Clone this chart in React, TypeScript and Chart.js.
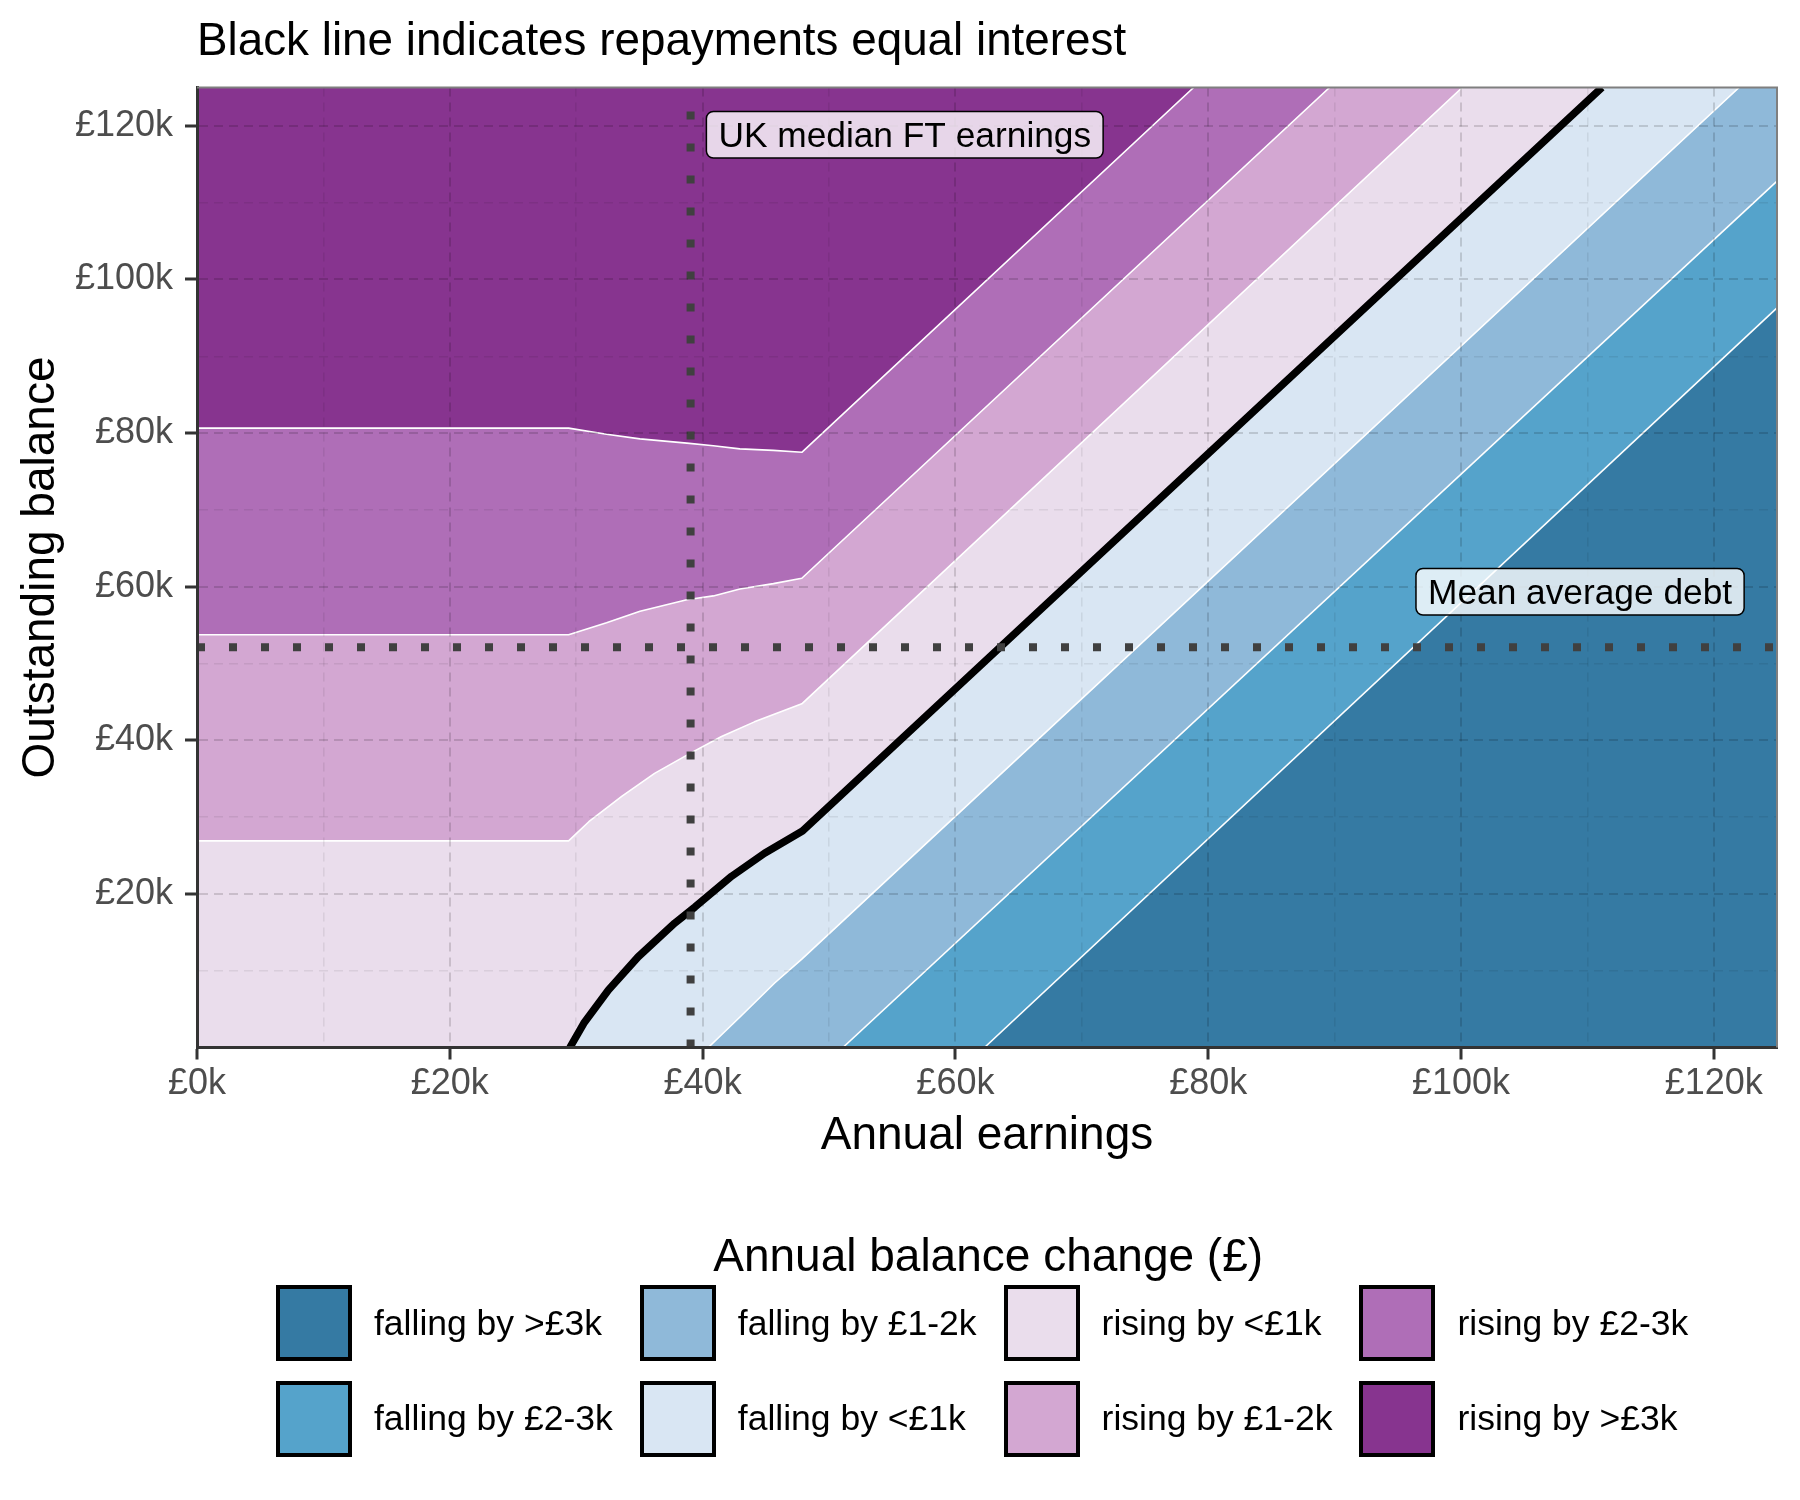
import { useEffect, useRef } from 'react';
import { Chart, registerables } from 'chart.js';

Chart.register(...registerables);

const FONT = '"Liberation Sans", Arial, Helvetica, sans-serif';

// axis limits and breaks (£k)
const X_MAX = 125;
const Y_MAX = 125;
const xMajorTicks = [0, 20, 40, 60, 80, 100, 120];
const xMinorTicks = [10, 30, 50, 70, 90, 110];
const yMajorTicks = [20, 40, 60, 80, 100, 120];
const yMinorTicks = [10, 30, 50, 70, 90, 110];

// legend categories, from the lowest band to the highest
const bandLabels = [
  'falling by >£3k',
  'falling by £2-3k',
  'falling by £1-2k',
  'falling by <£1k',
  'rising by <£1k',
  'rising by £1-2k',
  'rising by £2-3k',
  'rising by >£3k',
];
const bandColors = [
  '#357AA3',
  '#55A3CB',
  '#8FB9D9',
  '#D9E6F3',
  '#EADDEC',
  '#D3A7D2',
  '#AF6EB7',
  '#87348F',
];

// contour lines where the annual balance change equals the level (£k)
// x = annual earnings (£k), y = outstanding balance (£k)
const changeLevels = [-3, -2, -1, 0, 1, 2, 3];
const lineMinus3k = [
  { x: 62.3, y: 0 },
  { x: 125, y: 96.3 },
];
const lineMinus2k = [
  { x: 51.1, y: 0 },
  { x: 125, y: 112.8 },
];
const lineMinus1k = [
  { x: 40.45, y: 0 },
  { x: 43.1, y: 4.2 },
  { x: 45.7, y: 8.4 },
  { x: 47.85, y: 11.5 },
  { x: 122.0, y: 125 },
];
const lineZero = [
  { x: 29.5, y: 0 },
  { x: 30.6, y: 3.15 },
  { x: 32.55, y: 7.5 },
  { x: 34.9, y: 11.8 },
  { x: 37.8, y: 16.2 },
  { x: 39.4, y: 18.3 },
  { x: 42.3, y: 22.3 },
  { x: 44.9, y: 25.3 },
  { x: 47.9, y: 28.2 },
  { x: 111.15, y: 125 },
];
const linePlus1k = [
  { x: 0, y: 26.9 },
  { x: 29.4, y: 26.9 },
  { x: 31.0, y: 29.4 },
  { x: 33.6, y: 32.7 },
  { x: 36.2, y: 35.7 },
  { x: 38.9, y: 38.2 },
  { x: 41.5, y: 40.5 },
  { x: 44.1, y: 42.4 },
  { x: 47.85, y: 44.75 },
  { x: 100.1, y: 125 },
];
const linePlus2k = [
  { x: 0, y: 53.75 },
  { x: 29.4, y: 53.75 },
  { x: 32.4, y: 55.3 },
  { x: 35.05, y: 56.8 },
  { x: 38.75, y: 58.3 },
  { x: 40.85, y: 58.8 },
  { x: 42.95, y: 59.7 },
  { x: 45.6, y: 60.4 },
  { x: 47.85, y: 61.1 },
  { x: 89.6, y: 125 },
];
const linePlus3k = [
  { x: 0, y: 80.65 },
  { x: 29.4, y: 80.65 },
  { x: 32.4, y: 79.85 },
  { x: 35.05, y: 79.25 },
  { x: 38.75, y: 78.7 },
  { x: 40.85, y: 78.35 },
  { x: 42.95, y: 77.95 },
  { x: 45.6, y: 77.75 },
  { x: 47.85, y: 77.5 },
  { x: 78.85, y: 125 },
];
const contourLines = [lineMinus3k, lineMinus2k, lineMinus1k, lineZero, linePlus1k, linePlus2k, linePlus3k];

// dotted reference lines (£k)
const medianEarnings = 39.05;
const meanDebt = 52.1;

// text labels, anchored in data units
const noteTexts = ['UK median FT earnings', 'Mean average debt'];
const noteX = [40.3, 122.4];
const noteY = [118.85, 59.35];
const noteAnchor = ['left', 'right'];

const TITLE = 'Black line indicates repayments equal interest';

const isMajor = (ticks: number[], ctx: any) => ctx.tick && ticks.includes(ctx.tick.value);

const panelPlugin = {
  id: 'panel',
  beforeDatasetsDraw(chart: Chart) {
    const { ctx, chartArea: a } = chart;
    ctx.save();
    ctx.fillStyle = bandColors[bandColors.length - 1];
    ctx.fillRect(a.left, a.top, a.right - a.left, a.bottom - a.top);
    ctx.restore();
  },
  afterDraw(chart: Chart) {
    const { ctx, chartArea: a, scales } = chart;
    ctx.save();

    // top / right panel border
    ctx.strokeStyle = '#7F7F7F';
    ctx.lineWidth = 2;
    ctx.beginPath();
    ctx.moveTo(a.left, a.top);
    ctx.lineTo(a.right, a.top);
    ctx.lineTo(a.right, a.bottom);
    ctx.stroke();

    // labels
    const size = 35.3;
    ctx.font = `${size}px ${FONT}`;
    ctx.textBaseline = 'alphabetic';
    ctx.textAlign = 'left';
    noteTexts.forEach((text, i) => {
      const w = ctx.measureText(text).width + 24;
      const h = 46.6;
      const px = scales.x.getPixelForValue(noteX[i]);
      const cy = scales.y.getPixelForValue(noteY[i]);
      const left = noteAnchor[i] === 'left' ? px : px - w;
      ctx.beginPath();
      if ((ctx as any).roundRect) (ctx as any).roundRect(left, cy - h / 2, w, h, 7);
      else ctx.rect(left, cy - h / 2, w, h);
      ctx.fillStyle = 'rgba(255,255,255,0.8)';
      ctx.fill();
      ctx.lineWidth = 1.5;
      ctx.strokeStyle = '#000';
      ctx.stroke();
      ctx.fillStyle = '#000';
      ctx.fillText(text, left + 12, cy + size * 0.358);
    });

    // title
    ctx.font = `45.8px ${FONT}`;
    ctx.fillStyle = '#000';
    ctx.fillText(TITLE, a.left, 55);
    ctx.restore();
  },
};

export default function App() {
  const chartRef = useRef<HTMLCanvasElement>(null);
  const chartInstance = useRef<Chart | null>(null);

  useEffect(() => {
    if (!chartRef.current) return;
    if (chartInstance.current) chartInstance.current.destroy();

    Chart.defaults.font.family = FONT;

    // painter's order: each fill covers everything under its contour line
    const fills = contourLines.map((pts, i) => {
      const data = [...pts];
      const last = pts[pts.length - 1];
      if (last.y >= Y_MAX) data.push({ x: X_MAX, y: Y_MAX });
      return {
        label: `below ${changeLevels[i]}`,
        data,
        backgroundColor: bandColors[i],
        borderColor: 'rgba(0,0,0,0)',
        borderWidth: 0,
        fill: 'start',
        pointRadius: 0,
        tension: 0,
        clip: 0,
        order: 20 + i,
      };
    });

    const lines = contourLines.map((pts, i) => ({
      label: `level ${changeLevels[i]}`,
      data: pts,
      borderColor: changeLevels[i] === 0 ? '#000000' : '#FFFFFF',
      borderWidth: changeLevels[i] === 0 ? 7.5 : 1.6,
      borderJoinStyle: 'round' as const,
      fill: false,
      pointRadius: 0,
      tension: 0,
      clip: 0,
      order: changeLevels[i] === 0 ? 5 : 10,
    }));

    const dotted = {
      borderColor: '#404040',
      borderWidth: 8,
      borderDash: [8, 24],
      borderCapStyle: 'butt' as const,
      fill: false,
      pointRadius: 0,
      clip: 0,
      order: 1,
    };

    chartInstance.current = new Chart(chartRef.current, {
      type: 'line',
      data: {
        datasets: [
          ...fills,
          ...lines,
          { ...dotted, label: 'median earnings', data: [{ x: medianEarnings, y: 0 }, { x: medianEarnings, y: Y_MAX }] },
          { ...dotted, label: 'mean debt', data: [{ x: 0, y: meanDebt }, { x: X_MAX, y: meanDebt }] },
        ] as any,
      },
      options: {
        animation: false,
        responsive: true,
        maintainAspectRatio: false,
        events: [],
        layout: { padding: { top: 87.5, right: 23, bottom: 322.5, left: 0 } },
        plugins: {
          legend: { display: false },
          tooltip: { enabled: false },
          title: { display: false },
        },
        scales: {
          x: {
            type: 'linear',
            min: 0,
            max: X_MAX,
            afterBuildTicks: (axis: any) => {
              axis.ticks = [...xMajorTicks, ...xMinorTicks].sort((a, b) => a - b).map((value) => ({ value }));
            },
            afterFit: (axis: any) => {
              axis.height = 130;
            },
            ticks: {
              autoSkip: false,
              maxRotation: 0,
              padding: 3,
              color: '#4D4D4D',
              font: { size: 36 },
              callback: (v: any) => (xMajorTicks.includes(Number(v)) ? `£${v}k` : ''),
              z: 2,
            },
            grid: {
              z: 1,
              color: (ctx: any) => (isMajor(xMajorTicks, ctx) ? 'rgba(0,0,0,0.14)' : 'rgba(0,0,0,0.07)'),
              lineWidth: (ctx: any) => (isMajor(xMajorTicks, ctx) ? 2 : 1.6),
              tickLength: 12,
              tickWidth: 3,
              tickColor: (ctx: any) => (isMajor(xMajorTicks, ctx) ? '#333333' : 'rgba(0,0,0,0)'),
            },
            border: { z: 2, color: '#333333', width: 3, dash: [9, 6] },
            title: {
              display: true,
              text: 'Annual earnings',
              color: '#000000',
              font: { size: 46 },
              padding: { top: 0, bottom: 14 },
            },
          },
          y: {
            type: 'linear',
            min: 0,
            max: Y_MAX,
            afterBuildTicks: (axis: any) => {
              axis.ticks = [...yMajorTicks, ...yMinorTicks].sort((a, b) => a - b).map((value) => ({ value }));
            },
            afterFit: (axis: any) => {
              axis.width = 197;
            },
            ticks: {
              autoSkip: false,
              padding: 12,
              color: '#4D4D4D',
              font: { size: 36 },
              callback: (v: any) => (yMajorTicks.includes(Number(v)) ? `£${v}k` : ''),
              z: 2,
            },
            grid: {
              z: 1,
              color: (ctx: any) => (isMajor(yMajorTicks, ctx) ? 'rgba(0,0,0,0.14)' : 'rgba(0,0,0,0.07)'),
              lineWidth: (ctx: any) => (isMajor(yMajorTicks, ctx) ? 2 : 1.6),
              tickLength: 12,
              tickWidth: 3,
              tickColor: (ctx: any) => (isMajor(yMajorTicks, ctx) ? '#333333' : 'rgba(0,0,0,0)'),
            },
            border: { z: 2, color: '#333333', width: 3, dash: [9, 6] },
            title: {
              display: true,
              text: 'Outstanding balance',
              color: '#000000',
              font: { size: 46 },
              padding: { top: 14, bottom: 0 },
            },
          },
        },
      } as any,
      plugins: [panelPlugin],
    });

    return () => {
      if (chartInstance.current) {
        chartInstance.current.destroy();
        chartInstance.current = null;
      }
    };
  }, []);

  return (
    <div style={{ position: 'absolute', left: 0, top: 0, width: 1800, height: 1500, fontFamily: FONT }}>
      <canvas ref={chartRef}></canvas>
      <div
        style={{
          position: 'absolute',
          left: 276,
          top: 1232,
          display: 'flex',
          flexDirection: 'column',
          alignItems: 'center',
        }}
      >
        <div style={{ fontSize: 46, lineHeight: '46px', color: '#000', whiteSpace: 'nowrap', paddingLeft: 12 }}>
          Annual balance change (£)
        </div>
        <div
          style={{
            marginTop: 7,
            display: 'grid',
            gridTemplateRows: '76px 76px',
            gridAutoFlow: 'column',
            columnGap: 27,
            rowGap: 19.7,
          }}
        >
          {bandLabels.map((label, i) => (
            <div key={label} style={{ display: 'flex', alignItems: 'center' }}>
              <div
                style={{
                  width: 76,
                  height: 76,
                  boxSizing: 'border-box',
                  border: '4px solid #000',
                  background: bandColors[i],
                }}
              />
              <span style={{ marginLeft: 22, fontSize: 35.5, color: '#000', whiteSpace: 'nowrap' }}>{label}</span>
            </div>
          ))}
        </div>
      </div>
    </div>
  );
}
